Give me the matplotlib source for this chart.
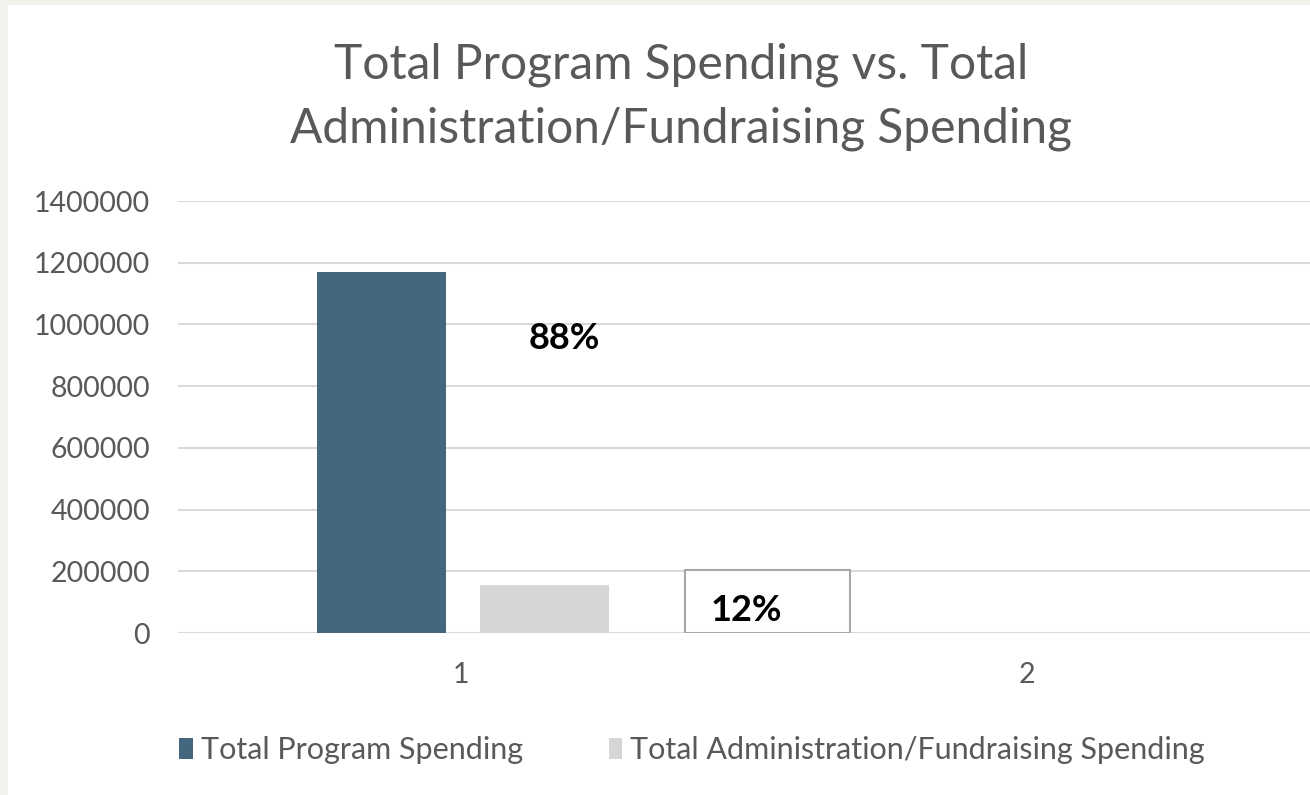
import matplotlib
matplotlib.use("Agg")
import matplotlib.pyplot as plt
from matplotlib.patches import Rectangle, Patch

# data
categories = [1, 2]
program_spending = [1170000, 0]
admin_spending = [155000, 0]
series_names = ["Total Program Spending", "Total Administration/Fundraising Spending"]
y_ticks = [0, 200000, 400000, 600000, 800000, 1000000, 1200000, 1400000]

prog_color = "#44667e"
admin_color = "#d6d6d6"
text_grey = "#595959"

plt.rcParams["font.family"] = ["Lato", "DejaVu Sans"]

fig = plt.figure(figsize=(13.1, 7.95), dpi=100, facecolor="#f2f2ec")
# white chart area with thin off-white border on left/top
fig.patches.append(Rectangle((8 / 1310, 0), 1 - 8 / 1310, 1 - 5 / 795,
                             transform=fig.transFigure, facecolor="white",
                             edgecolor="none", zorder=-10))

ax = fig.add_axes([178 / 1310, 1 - 633 / 795, 1 - 178 / 1310, 432 / 795])
ax.set_facecolor("none")

w = 0.228
ax.bar([c - 0.14 for c in categories], program_spending, width=w, color=prog_color, zorder=3)
ax.bar([c + 0.147 for c in categories], admin_spending, width=w, color=admin_color, zorder=3)

ax.set_xlim(0.5, 2.5)
ax.set_ylim(0, 1400000)
ax.set_yticks(y_ticks)
ax.set_yticklabels([str(t) for t in y_ticks])
ax.set_xticks(categories)
ax.set_xticklabels([str(c) for c in categories])
ax.tick_params(axis="both", length=0, labelsize=20.5, labelcolor=text_grey)
ax.tick_params(axis="y", pad=20)
ax.tick_params(axis="x", pad=21)
ax.yaxis.grid(True, color="#d9d9d9", linewidth=1.5, zorder=0)
ax.set_axisbelow(True)
for s in ax.spines.values():
    s.set_visible(False)

# percentage annotations
total = program_spending[0] + admin_spending[0]
pct_prog = round(program_spending[0] / total * 100)
pct_admin = round(admin_spending[0] / total * 100)
ax.text(1.182, 956000, f"{pct_prog}%", fontsize=26, fontweight="bold",
        color="black", ha="center", va="center", zorder=5)
ax.add_patch(Rectangle((1.396, 0), 0.291, 204000, facecolor="white",
                       edgecolor="#a6a6a6", linewidth=1.5, zorder=4))
ax.text(1.505, 72000, f"{pct_admin}%", fontsize=26, fontweight="bold",
        color="black", ha="center", va="center", zorder=5)

# title
fig.text(681 / 1310, 1 - 97 / 795,
         "Total Program Spending vs. Total\nAdministration/Fundraising Spending",
         ha="center", va="center", fontsize=34.5, color=text_grey, linespacing=1.55)

# legend
handles = [Patch(facecolor=prog_color), Patch(facecolor=admin_color)]
leg = fig.legend(handles, series_names, loc="center", ncol=2,
                 bbox_to_anchor=(692 / 1310, 1 - 750 / 795), frameon=False,
                 fontsize=22, handlelength=0.45, handleheight=0.7,
                 handletextpad=0.25, columnspacing=2.8)
for t in leg.get_texts():
    t.set_color(text_grey)

fig.savefig("out.png", dpi=100, facecolor=fig.get_facecolor())
